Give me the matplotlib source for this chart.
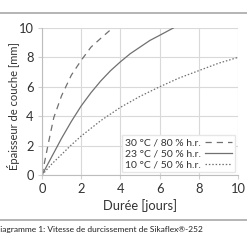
import matplotlib
matplotlib.use("Agg")
import matplotlib.pyplot as plt
from matplotlib.lines import Line2D

plt.rcParams['font.family'] = ['Lato', 'DejaVu Sans']

# Data
x30 = [0, 0.3, 0.6, 1.0, 1.5, 2.0, 2.5, 3.0, 3.6]
y30 = [0, 2.0, 3.9, 5.4, 6.8, 7.8, 8.7, 9.3, 10.0]
x23 = [0, 0.5, 1, 1.5, 2, 2.5, 3, 3.5, 4, 4.5, 5, 5.5, 6, 6.7]
y23 = [0, 1.25, 2.5, 3.65, 4.7, 5.6, 6.4, 7.1, 7.7, 8.25, 8.7, 9.15, 9.5, 10.0]
x10 = [0, 0.5, 1, 1.5, 2, 3, 4, 5, 6, 7, 8, 9, 10]
y10 = [0, 0.75, 1.4, 2.05, 2.65, 3.7, 4.6, 5.35, 6.0, 6.6, 7.1, 7.6, 8.0]
labels = ["30 °C / 80 % h.r.", "23 °C / 50 % h.r.", "10 °C / 50 % h.r."]
xticks = [0, 2, 4, 6, 8, 10]
yticks = [0, 2, 4, 6, 8, 10]
xlabel = "Durée [jours]"
ylabel = "Épaisseur de couche [mm]"
caption = "Diagramme 1: Vitesse de durcissement de Sikaflex®-252"

W = H = 247
fig = plt.figure(figsize=(W / 100, H / 100), dpi=100)
fig.patch.set_facecolor('white')
ax = fig.add_axes([42 / W, 1 - 175 / H, (238 - 42) / W, (175 - 28) / H])

col = '#707070'
ax.plot(x30, y30, color=col, lw=0.9, dashes=(5, 4))
ax.plot(x23, y23, color=col, lw=0.9)
ax.plot(x10, y10, color=col, lw=0.9, dashes=(1.2, 1.5))

ax.set_xlim(0, 10)
ax.set_ylim(0, 10)
ax.set_xticks(xticks)
ax.set_yticks(yticks)
ax.grid(True, color='#d9d9d9', lw=0.8)
ax.set_axisbelow(True)
for s in ['top', 'right']:
    ax.spines[s].set_visible(False)
for s in ['left', 'bottom']:
    ax.spines[s].set_color('#bdbdbd')
    ax.spines[s].set_linewidth(0.8)
ax.tick_params(colors='#d0d0d0', length=3, width=0.8, labelcolor='#333333',
               labelsize=9.3, pad=3)
ax.set_xlabel(xlabel, fontsize=9.3, color='#333333', labelpad=3)
ax.set_ylabel(ylabel, fontsize=8.0, color='#333333')
ax.yaxis.set_label_coords(-0.112, 0.47)

handles = [Line2D([], [], color=col, lw=0.9, dashes=(5, 4)),
           Line2D([], [], color=col, lw=0.9),
           Line2D([], [], color=col, lw=0.9, dashes=(1.2, 1.5))]
leg = ax.legend(handles, labels, loc='lower right', markerfirst=False,
                fontsize=7.5, frameon=True, fancybox=False, framealpha=1,
                edgecolor='#e6e6e6', borderpad=0.3, labelspacing=0.15,
                handlelength=2.6, handletextpad=0.4, borderaxespad=0.25)
for t in leg.get_texts():
    t.set_color('#333333')

fig.add_artist(Line2D([0, 1], [1 - 13 / H, 1 - 13 / H], color='#a8a8a8', lw=1.2,
                      transform=fig.transFigure))
fig.add_artist(Line2D([0, 1], [1 - 220 / H, 1 - 220 / H], color='#a8a8a8', lw=1.2,
                      transform=fig.transFigure))
fig.text(-6 / W, 1 - 229 / H, caption, fontsize=6.0, color='#222222',
         va='center', ha='left')

fig.savefig('out.png', dpi=100, facecolor='white')
